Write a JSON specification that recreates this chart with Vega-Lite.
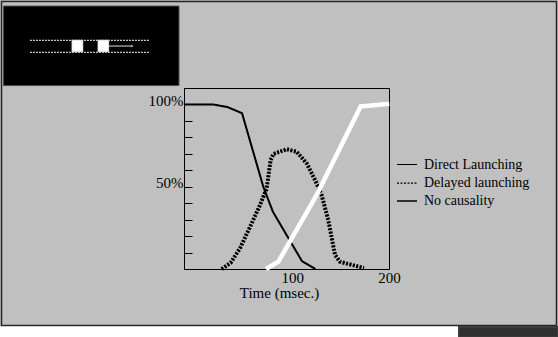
{
  "$schema": "https://vega.github.io/schema/vega-lite/v6.json",
  "width": 205,
  "height": 181,
  "autosize": {"type": "none"},
  "padding": {"left": 184, "top": 88, "right": 169, "bottom": 68},
  "background": "#c0c0c0",
  "config": {
    "view": {"stroke": "black", "strokeWidth": 1, "fill": null},
    "font": "Liberation Serif",
    "legend": {"labelFont": "Liberation Serif", "labelFontSize": 14, "labelColor": "black"},
    "style": {"guide-label": {"font": "Liberation Serif"}}
  },
  "datasets": {
    "curves": [
      {"series": "Direct Launching", "x": -12, "y": 100},
      {"series": "Direct Launching", "x": 18, "y": 100},
      {"series": "Direct Launching", "x": 33, "y": 98.4},
      {"series": "Direct Launching", "x": 48, "y": 94.7},
      {"series": "Direct Launching", "x": 70, "y": 50},
      {"series": "Direct Launching", "x": 80, "y": 34.7},
      {"series": "Direct Launching", "x": 110, "y": 4.8},
      {"series": "Direct Launching", "x": 124, "y": 0},
      {"series": "Delayed launching", "x": 27, "y": 0},
      {"series": "Delayed launching", "x": 36.3, "y": 3.8},
      {"series": "Delayed launching", "x": 45.9, "y": 12.6},
      {"series": "Delayed launching", "x": 56.3, "y": 25.6},
      {"series": "Delayed launching", "x": 66.6, "y": 38.9},
      {"series": "Delayed launching", "x": 73.5, "y": 49},
      {"series": "Delayed launching", "x": 77.6, "y": 66.3},
      {"series": "Delayed launching", "x": 80.4, "y": 69.9},
      {"series": "Delayed launching", "x": 94.2, "y": 72.8},
      {"series": "Delayed launching", "x": 104.5, "y": 71.3},
      {"series": "Delayed launching", "x": 114.9, "y": 64.2},
      {"series": "Delayed launching", "x": 123.5, "y": 54.1},
      {"series": "Delayed launching", "x": 130.4, "y": 44.8},
      {"series": "Delayed launching", "x": 137.2, "y": 29.7},
      {"series": "Delayed launching", "x": 144.2, "y": 8.5},
      {"series": "Delayed launching", "x": 149.3, "y": 4.4},
      {"series": "Delayed launching", "x": 174.2, "y": 0.6},
      {"series": "No causality", "x": 72.8, "y": 0},
      {"series": "No causality", "x": 85.5, "y": 4.4},
      {"series": "No causality", "x": 125.2, "y": 45},
      {"series": "No causality", "x": 170.7, "y": 98.8},
      {"series": "No causality", "x": 200.3, "y": 100.4}
    ],
    "panels": [
      {"part": "slide", "x": -200.7, "x2": 373.2, "y": 162.6, "y2": -34.3},
      {"part": "strip", "x": -202.3, "x2": 272.4, "y": -34.9, "y2": -41.5},
      {"part": "bar", "x": 272.4, "x2": 374.8, "y": -35.3, "y2": -41.5},
      {"part": "box", "x": -198.6, "x2": -17.2, "y": 159.8, "y2": 111.5},
      {"part": "square", "x": -128.1, "x2": -116.4, "y": 139.2, "y2": 131.9},
      {"part": "square", "x": -101.2, "x2": -89.6, "y": 139.2, "y2": 131.9}
    ],
    "tracks": [
      {"x": -171.3, "x2": -47.2, "y": 139},
      {"x": -171.3, "x2": -47.2, "y": 131.7}
    ]
  },
  "encoding": {
    "x": {
      "field": "x", "type": "quantitative",
      "scale": {"domain": [-12, 200], "nice": false, "zero": false},
      "axis": {
        "values": [100, 200], "ticks": false, "domain": false, "grid": false,
        "labelFont": "Liberation Serif", "labelFontSize": 15, "labelColor": "black",
        "labelPadding": 1, "labelFlush": false,
        "title": "Time (msec.)", "titleFont": "Liberation Serif", "titleFontSize": 15,
        "titleFontWeight": "normal", "titleColor": "black",
        "titleX": 95, "titleY": 28, "titleBaseline": "alphabetic", "titleAnchor": "middle"
      }
    },
    "y": {
      "field": "y", "type": "quantitative",
      "scale": {"domain": [0, 110], "nice": false, "zero": false},
      "axis": {
        "values": [10, 20, 30, 40, 50, 60, 70, 80, 90, 100],
        "tickSize": -8, "tickColor": "black", "tickWidth": 1,
        "domain": true, "domainColor": "black", "grid": false,
        "labelExpr": "datum.value == 50 || datum.value == 100 ? datum.value + '%' : ''",
        "labelFont": "Liberation Serif", "labelFontSize": 15, "labelColor": "black",
        "labelPadding": 9, "labelBaseline": "alphabetic", "labelOffset": 1,
        "title": null
      }
    }
  },
  "layer": [
    {
      "data": {"name": "panels"},
      "transform": [{"filter": "datum.part == 'slide'"}],
      "mark": {"type": "rect", "fill": null, "stroke": "#262626", "strokeWidth": 1.5},
      "encoding": {"x2": {"field": "x2"}, "y2": {"field": "y2"}}
    },
    {
      "data": {"name": "panels"},
      "transform": [{"filter": "datum.part == 'strip'"}],
      "mark": {"type": "rect", "fill": "white"},
      "encoding": {"x2": {"field": "x2"}, "y2": {"field": "y2"}}
    },
    {
      "data": {"name": "panels"},
      "transform": [{"filter": "datum.part == 'bar'"}],
      "mark": {"type": "rect", "fill": "#303030", "stroke": "#3c3c3c", "strokeWidth": 2},
      "encoding": {"x2": {"field": "x2"}, "y2": {"field": "y2"}}
    },
    {
      "data": {"name": "panels"},
      "transform": [{"filter": "datum.part == 'box'"}],
      "mark": {"type": "rect", "fill": "black", "stroke": "#4a4a4a", "strokeWidth": 1},
      "encoding": {"x2": {"field": "x2"}, "y2": {"field": "y2"}}
    },
    {
      "data": {"name": "tracks"},
      "mark": {"type": "rule", "stroke": "white", "strokeWidth": 1, "strokeDash": [2, 1]},
      "encoding": {"x2": {"field": "x2"}}
    },
    {
      "data": {"name": "panels"},
      "transform": [{"filter": "datum.part == 'square'"}],
      "mark": {"type": "rect", "fill": "white", "stroke": "#9a9a9a", "strokeWidth": 0.5},
      "encoding": {"x2": {"field": "x2"}, "y2": {"field": "y2"}}
    },
    {
      "data": {"values": [{"x": -89.6, "x2": -64.8, "y": 135.5}]},
      "mark": {"type": "rule", "stroke": "#e0e0e0", "strokeWidth": 1},
      "encoding": {"x2": {"field": "x2"}}
    },
    {
      "data": {"values": [{"x": -65.5, "y": 135.5}]},
      "mark": {"type": "point", "shape": "triangle-right", "filled": true, "fill": "#a0a0a0", "size": 12},
      "encoding": {}
    },
    {
      "data": {"values": [{"y": 50}, {"y": 100}]},
      "mark": {"type": "rule", "stroke": "black", "strokeWidth": 1},
      "encoding": {"x": {"datum": -12}, "x2": {"datum": 3.5}}
    },
    {
      "data": {"name": "curves"},
      "mark": {"type": "line", "color": "black", "strokeCap": "butt", "strokeJoin": "miter"},
      "encoding": {
        "order": {"field": "x", "type": "quantitative"},
        "strokeDash": {
          "field": "series", "type": "nominal",
          "scale": {"domain": ["Direct Launching", "Delayed launching", "No causality"], "range": [[1, 0], [2, 1.5], [1, 0]]},
          "legend": {
            "title": null, "orient": "none", "legendX": 212, "legendY": 66,
            "symbolType": "stroke", "symbolSize": 400, "padding": 0, "rowPadding": 0,
            "labelFont": "Liberation Serif", "labelFontSize": 14, "labelColor": "black",
            "labelOffset": 6, "labelLimit": 200
          }
        },
        "strokeWidth": {
          "field": "series", "type": "nominal",
          "scale": {"domain": ["Direct Launching", "Delayed launching", "No causality"], "range": [1, 1.5, 2.5]},
          "legend": {
            "title": null, "orient": "none", "legendX": 212, "legendY": 66,
            "symbolType": "stroke", "symbolSize": 400, "padding": 0, "rowPadding": 0,
            "labelFont": "Liberation Serif", "labelFontSize": 14, "labelColor": "black",
            "labelOffset": 6, "labelLimit": 200
          }
        }
      }
    },
    {
      "data": {"name": "curves"},
      "mark": {"type": "line", "strokeCap": "butt", "strokeJoin": "miter"},
      "encoding": {
        "order": {"field": "x", "type": "quantitative"},
        "detail": {"field": "series", "type": "nominal"},
        "color": {"condition": {"test": "datum.series == 'No causality'", "value": "white"}, "value": "black"},
        "strokeDash": {"condition": {"test": "datum.series == 'Delayed launching'", "value": [2, 1.5]}, "value": [1, 0]},
        "strokeWidth": {
          "condition": [
            {"test": "datum.series == 'Direct Launching'", "value": 2},
            {"test": "datum.series == 'Delayed launching'", "value": 4}
          ],
          "value": 4.5
        }
      }
    }
  ]
}
